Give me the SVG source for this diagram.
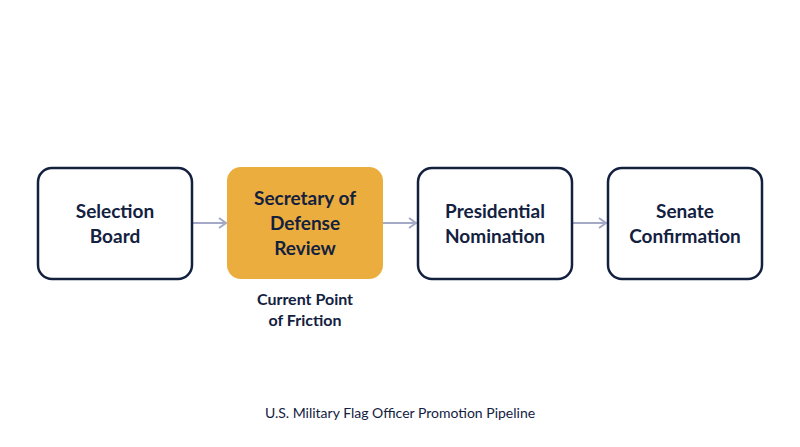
<svg xmlns="http://www.w3.org/2000/svg" width="800" height="447" viewBox="0 0 800 447">
<defs>
<style>
.box{fill:#fff;stroke:#13213f;stroke-width:2.5}
.t{font-family:Lato,"Open Sans",sans-serif;font-weight:bold;font-size:19px;fill:#13213f;text-anchor:middle}
.c{stroke:#a3a9c6;stroke-width:2;fill:none}
</style>
<marker id="a" markerWidth="12" markerHeight="12" refX="10" refY="6" orient="auto" markerUnits="userSpaceOnUse"><path d="M3,1 L10,6 L3,11" fill="none" stroke="#a3a9c6" stroke-width="2"/></marker>
</defs>
<rect width="800" height="447" fill="#fff"/>
<g id="connectors">
<line class="c" x1="193" y1="223" x2="226" y2="223" marker-end="url(#a)"/>
<line class="c" x1="383" y1="223" x2="416" y2="223" marker-end="url(#a)"/>
<line class="c" x1="573" y1="223" x2="606" y2="223" marker-end="url(#a)"/>
</g>
<g id="n1"><rect class="box" x="38" y="168" width="154" height="111" rx="14"/><text class="t" x="115" y="218">Selection</text><text class="t" x="115" y="243">Board</text></g>
<g id="n2"><rect x="227" y="167" width="156" height="112" rx="14" fill="#ebad3e"/><text class="t" x="305" y="205">Secretary of</text><text class="t" x="305" y="230">Defense</text><text class="t" x="305" y="255">Review</text></g>
<g id="n3"><rect class="box" x="418" y="168" width="154" height="111" rx="14"/><text class="t" x="495" y="218">Presidential</text><text class="t" x="495" y="243">Nomination</text></g>
<g id="n4"><rect class="box" x="608" y="168" width="154" height="111" rx="14"/><text class="t" x="685" y="218">Senate</text><text class="t" x="685" y="243">Confirmation</text></g>
<g id="note"><text class="t" x="305" y="305" font-size="16" style="font-size:16px">Current Point</text><text class="t" x="305" y="326" style="font-size:16px">of Friction</text></g>
<text x="400" y="418" font-family="Lato,'Open Sans',sans-serif" font-size="14" fill="#13213f" text-anchor="middle">U.S. Military Flag Officer Promotion Pipeline</text>
</svg>
